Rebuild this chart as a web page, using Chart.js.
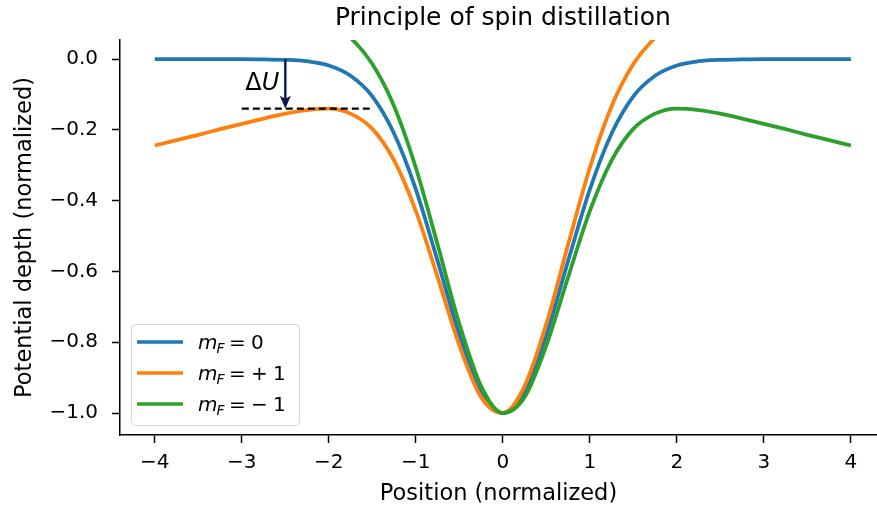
<!DOCTYPE html>
<html>
<head>
<meta charset="utf-8">
<script src="https://cdn.jsdelivr.net/npm/chart.js@4.4.0/dist/chart.umd.min.js"></script>
<style>
  html, body { margin: 0; padding: 0; background: #fff; }
  canvas { display: block; }
</style>
</head>
<body>
<canvas id="spinChart" width="877" height="518"></canvas>
<script>
// positions (normalized)
const positions = [-4, -3.75, -3.5, -3.25, -3, -2.75, -2.5, -2.25, -2, -1.75, -1.5, -1.25, -1, -0.75, -0.5, -0.25,
  0, 0.25, 0.5, 0.75, 1, 1.25, 1.5, 1.75, 2, 2.25, 2.5, 2.75, 3, 3.25, 3.5, 3.75, 4];

// potential depth
const depthMF0 = [0, 0, 0, 0, 0, -0.001, -0.002, -0.006, -0.018, -0.047, -0.105, -0.210, -0.368, -0.570, -0.779, -0.939,
  -1.0, -0.939, -0.779, -0.570, -0.368, -0.210, -0.105, -0.047, -0.018, -0.006, -0.002, -0.001, 0, 0, 0, 0, 0];
const depthMFplus = [-0.244, -0.229, -0.214, -0.198, -0.183, -0.168, -0.154, -0.144, -0.140, -0.154, -0.197, -0.286, -0.429, -0.616, -0.809, -0.955,
  -1.0, -0.924, -0.748, -0.524, -0.307, -0.133, -0.014, 0.060, 0.104, 0.131, 0.151, 0.167, 0.183, 0.198, 0.214, 0.229, 0.244];
const depthMFminus = [0.244, 0.229, 0.214, 0.198, 0.183, 0.167, 0.151, 0.131, 0.104, 0.060, -0.014, -0.133, -0.307, -0.524, -0.748, -0.924,
  -1.0, -0.955, -0.809, -0.616, -0.429, -0.286, -0.197, -0.154, -0.140, -0.144, -0.154, -0.168, -0.183, -0.198, -0.214, -0.229, -0.244];

const seriesLabels = ['m_F = 0', 'm_F = +1', 'm_F = −1'];

// barrier marker: dashed level and arrow
const barrierX = [-3, -1.5];
const barrierLevel = -0.14;
const arrowX = -2.5;
const arrowTop = 0;
const deltaLabelPos = [-2.96, -0.088];

const xTicks = [-4, -3, -2, -1, 0, 1, 2, 3, 4];
const yTicks = [0, -0.2, -0.4, -0.6, -0.8, -1.0];

const chartTitle = 'Principle of spin distillation';
const FONT = '"DejaVu Sans", Verdana, sans-serif';
const colors = ['#1f77b4', '#ff7f0e', '#2ca02c'];

function toPoints(ys) {
    return positions.map((x, i) => ({x: x, y: ys[i]}));
}
function minus(s) {
    return s.replace('-', '\u2212');
}

// title centred over the axes, arrow and ΔU label
const annotationPlugin = {
    id: 'annot',
    afterDatasetsDraw(chart) {
        const ctx = chart.ctx;
        const xs = chart.scales.x, ys = chart.scales.y;
        const area = chart.chartArea;
        const px = xs.getPixelForValue(arrowX);
        const top = ys.getPixelForValue(arrowTop);
        const tip = ys.getPixelForValue(barrierLevel);
        ctx.save();
        ctx.strokeStyle = '#0b1a4e';
        ctx.fillStyle = '#0b1a4e';
        ctx.lineWidth = 2.4;
        ctx.beginPath();
        ctx.moveTo(px, top);
        ctx.lineTo(px, tip - 6);
        ctx.stroke();
        ctx.beginPath();
        ctx.moveTo(px, tip);
        ctx.lineTo(px - 5.5, tip - 13);
        ctx.lineTo(px, tip - 10);
        ctx.lineTo(px + 5.5, tip - 13);
        ctx.closePath();
        ctx.fill();

        const lx = xs.getPixelForValue(deltaLabelPos[0]);
        const ly = ys.getPixelForValue(deltaLabelPos[1]);
        ctx.fillStyle = '#000';
        ctx.textBaseline = 'alphabetic';
        ctx.textAlign = 'left';
        ctx.font = '24px ' + FONT;
        ctx.fillText('\u0394', lx, ly);
        const w = ctx.measureText('\u0394').width;
        ctx.font = 'italic 24px ' + FONT;
        ctx.fillText('U', lx + w, ly);

        ctx.textAlign = 'center';
        ctx.font = '25px ' + FONT;
        ctx.fillText(chartTitle, xs.getPixelForValue(0), 25);
        ctx.restore();
    }
};

// matplotlib-like legend with math subscripts
const legendPlugin = {
    id: 'mathLegend',
    afterDraw(chart) {
        const ctx = chart.ctx;
        const area = chart.chartArea;
        const left = area.left + 11, bottom = area.bottom - 10;
        const w = 168, h = 101, top = bottom - h;
        ctx.save();
        ctx.beginPath();
        ctx.roundRect(left + 0.5, top + 0.5, w, h, 4);
        ctx.fillStyle = 'rgba(255,255,255,0.8)';
        ctx.fill();
        ctx.strokeStyle = '#d6d6d6';
        ctx.lineWidth = 1;
        ctx.stroke();

        seriesLabels.forEach((lab, i) => {
            const y = top + 18 + i * 31;
            ctx.strokeStyle = colors[i];
            ctx.lineWidth = 3.5;
            ctx.beginPath();
            ctx.moveTo(left + 6, y);
            ctx.lineTo(left + 52, y);
            ctx.stroke();

            const x0 = left + 67, base = y + 7;
            ctx.fillStyle = '#000';
            ctx.textAlign = 'left';
            ctx.textBaseline = 'alphabetic';
            ctx.font = 'italic 20px ' + FONT;
            ctx.fillText('m', x0, base);
            const mw = ctx.measureText('m').width;
            ctx.font = 'italic 14px ' + FONT;
            ctx.fillText('F', x0 + mw - 1, base + 4);
            ctx.font = '20px ' + FONT;
            ctx.fillText('=', x0 + 31, base);
            const val = lab.split(' = ')[1];
            if (val.length > 1) {
                ctx.fillText(val[0], x0 + 53, base);
                ctx.fillText(val.slice(1), x0 + 75, base);
            } else {
                ctx.fillText(val, x0 + 53, base);
            }
        });
        ctx.restore();
    }
};

const ctx = document.getElementById('spinChart').getContext('2d');

const spinChart = new Chart(ctx, {
    type: 'line',
    plugins: [annotationPlugin, legendPlugin],
    data: {
        datasets: [
            {label: seriesLabels[0], data: toPoints(depthMF0), borderColor: colors[0], order: 3},
            {label: seriesLabels[1], data: toPoints(depthMFplus), borderColor: colors[1], order: 2},
            {label: seriesLabels[2], data: toPoints(depthMFminus), borderColor: colors[2], order: 1},
            {
                label: 'barrier',
                data: barrierX.map(x => ({x: x, y: barrierLevel})),
                borderColor: '#000',
                borderWidth: 2.2,
                borderDash: [7, 4],
                cubicInterpolationMode: 'default',
                tension: 0,
                order: 0
            }
        ]
    },
    options: {
        responsive: false,
        animation: false,
        devicePixelRatio: 1,
        layout: {padding: {left: 0, right: 0, top: 40, bottom: 0}},
        elements: {
            line: {borderWidth: 3.8, cubicInterpolationMode: 'monotone', fill: false},
            point: {radius: 0, hoverRadius: 0}
        },
        datasets: {line: {clip: 0}},
        plugins: {
            legend: {display: false},
            tooltip: {enabled: false},
            title: {display: false}
        },
        scales: {
            x: {
                type: 'linear',
                min: -4.4,
                max: 4.3,
                afterBuildTicks: (scale) => { scale.ticks = xTicks.map(v => ({value: v})); },
                afterFit: (scale) => { scale.height = 83; },
                border: {display: true, color: '#000', width: 1.5},
                grid: {display: true, drawOnChartArea: false, drawTicks: true, tickLength: 8, tickWidth: 1.5, tickColor: '#000'},
                ticks: {
                    color: '#000',
                    padding: 8,
                    maxRotation: 0,
                    font: {family: FONT, size: 20},
                    callback: (v) => minus(String(v))
                },
                title: {
                    display: true,
                    text: 'Position (normalized)',
                    color: '#000',
                    font: {family: FONT, size: 22.5},
                    padding: {top: 0, bottom: 10}
                }
            },
            y: {
                type: 'linear',
                min: -1.062,
                max: 0.054,
                afterBuildTicks: (scale) => { scale.ticks = yTicks.map(v => ({value: v})); },
                afterFit: (scale) => { scale.width = 120; },
                border: {display: true, color: '#000', width: 1.5},
                grid: {display: true, drawOnChartArea: false, drawTicks: true, tickLength: 8, tickWidth: 1.5, tickColor: '#000'},
                ticks: {
                    color: '#000',
                    padding: 14,
                    font: {family: FONT, size: 20},
                    callback: (v) => minus(Number(v).toFixed(1))
                },
                title: {
                    display: true,
                    text: 'Potential depth (normalized)',
                    color: '#000',
                    font: {family: FONT, size: 22.5},
                    padding: {top: 12, bottom: 0}
                }
            }
        }
    }
});
</script>
</body>
</html>
